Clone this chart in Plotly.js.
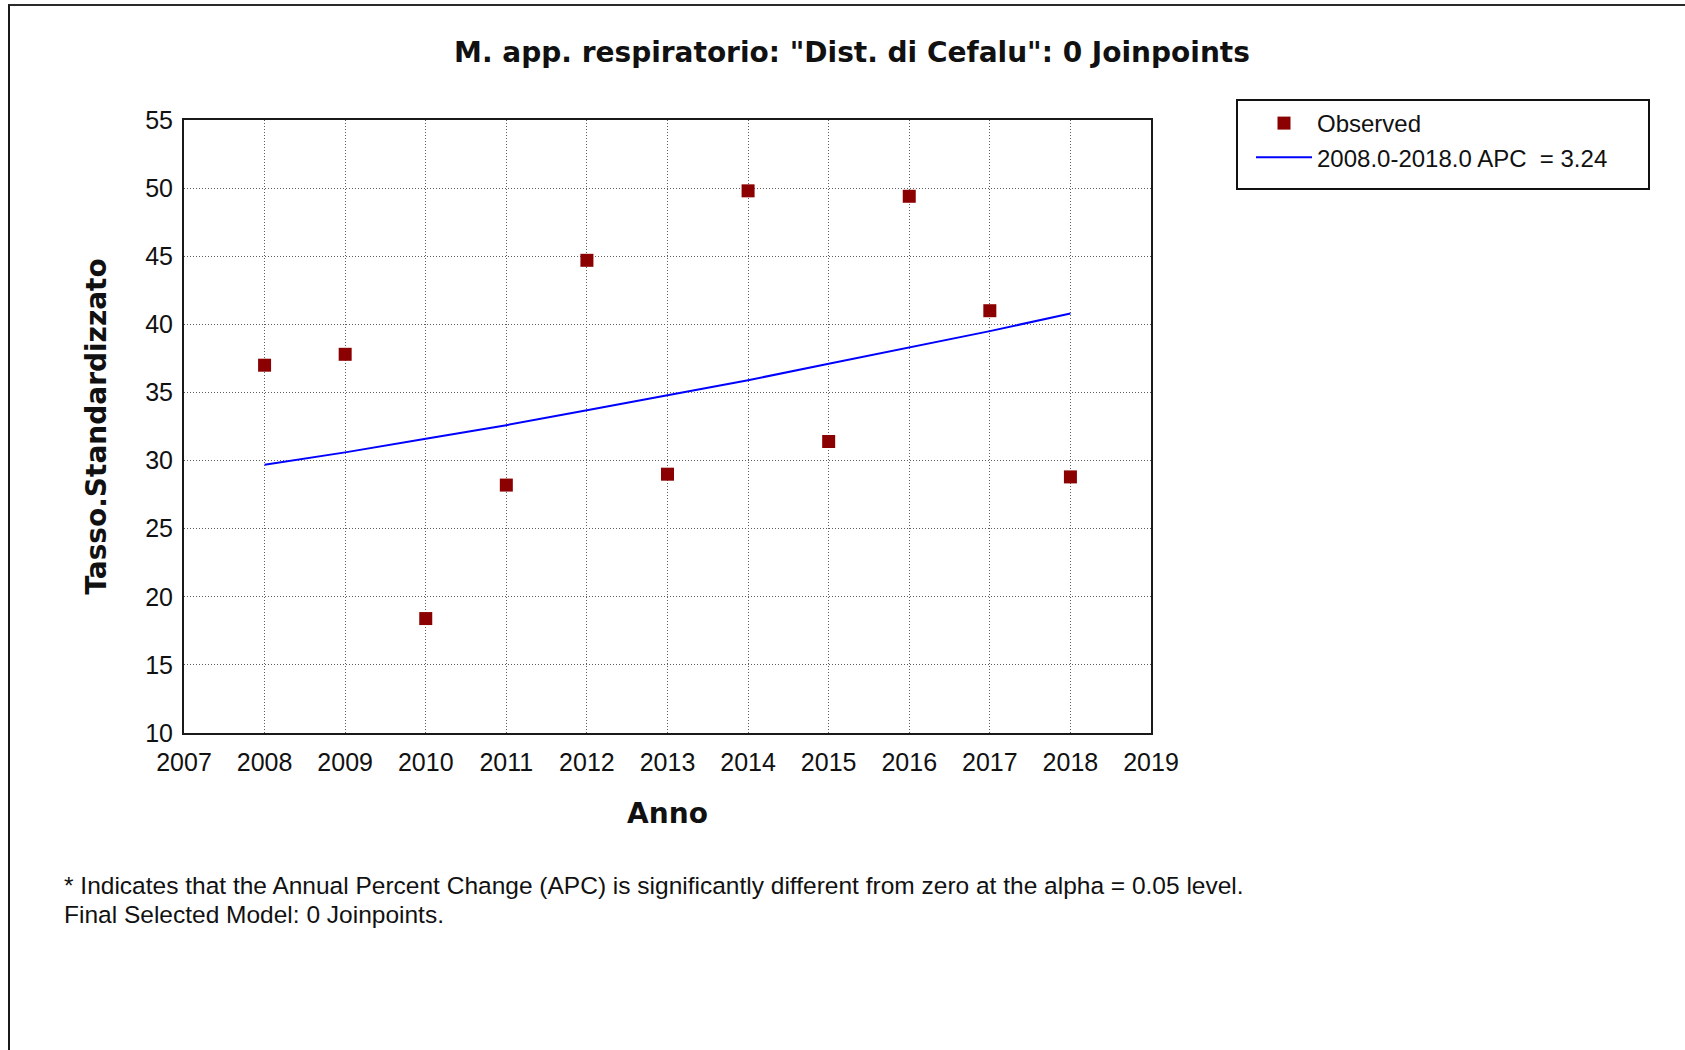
<!DOCTYPE html>
<html>
<head>
<meta charset="utf-8">
<script src="https://cdn.plot.ly/plotly-3.0.1.min.js"></script>
<style>
  html, body { margin: 0; padding: 0; background: #ffffff; }
  #chart { position: absolute; left: 0; top: 0; width: 1685px; height: 1050px; }
  #frame { position: absolute; left: 8px; top: 4px; width: 1685px; height: 1050px;
           border-left: 2px solid #1a1a1a; border-top: 2px solid #2a2a2a; pointer-events: none; }
</style>
</head>
<body>
<div id="chart"></div>
<div id="frame"></div>
<script>
// ---- data ----
const years = [2008, 2009, 2010, 2011, 2012, 2013, 2014, 2015, 2016, 2017, 2018];
const observed = [37.0, 37.8, 18.4, 28.2, 44.7, 29.0, 49.8, 31.4, 49.4, 41.0, 28.8];
const modelFit = [29.7, 30.6, 31.6, 32.6, 33.7, 34.8, 35.9, 37.1, 38.3, 39.5, 40.8];
const xTicks = [2007, 2008, 2009, 2010, 2011, 2012, 2013, 2014, 2015, 2016, 2017, 2018, 2019];
const yTicks = [10, 15, 20, 25, 30, 35, 40, 45, 50, 55];
const seriesNames = ['Observed', '2008.0-2018.0 APC  = 3.24'];
const chartTitle = 'M. app. respiratorio: "Dist. di Cefalu": 0 Joinpoints';
const xTitle = 'Anno';
const yTitle = 'Tasso.Standardizzato';
const footnotes = [
  '* Indicates that the Annual Percent Change (APC) is significantly different from zero at the alpha = 0.05 level.',
  'Final Selected Model: 0 Joinpoints.'
];

const tickFont = { family: '"Liberation Sans", Arial, sans-serif', size: 25, color: '#111111' };
const titleFont = { family: '"DejaVu Sans", Verdana, sans-serif', size: 28, color: '#111111', weight: 'bold' };

const traces = [
  {
    x: years, y: observed, name: seriesNames[0],
    type: 'scatter', mode: 'markers',
    marker: { symbol: 'square', size: 13, color: '#8b0000' }
  },
  {
    x: years, y: modelFit, name: seriesNames[1],
    type: 'scatter', mode: 'lines',
    line: { color: '#0000ff', width: 2 }
  }
];

const L = 184, R = 1151, T = 120, B = 733;
const W = R - L, H = B - T;
const px2x = (px) => (px - L) / W;
const px2y = (py) => (B - py) / H;

const gridStyle = { showgrid: true, gridcolor: '#5e5e5e', griddash: '1px,2px', gridwidth: 1 };

const layout = {
  width: 1685, height: 1050,
  paper_bgcolor: '#ffffff', plot_bgcolor: '#ffffff',
  margin: { l: L, r: 1685 - R, t: T, b: 1050 - B, pad: 0 },
  title: {
    text: chartTitle, font: titleFont,
    xref: 'container', x: 852 / 1685, xanchor: 'center',
    yref: 'container', y: 1 - 52 / 1050, yanchor: 'middle'
  },
  xaxis: Object.assign({
    range: [2007, 2019], tickvals: xTicks, ticktext: xTicks.map(String),
    zeroline: false, showline: true, mirror: true, linecolor: '#1a1a1a', linewidth: 2,
    ticks: '', tickfont: tickFont, ticklabelstandoff: 6,
    title: { text: xTitle, font: titleFont, standoff: 28 }
  }, gridStyle),
  yaxis: Object.assign({
    range: [10, 55], tickvals: yTicks, ticktext: yTicks.map(String),
    zeroline: false, showline: true, mirror: true, linecolor: '#1a1a1a', linewidth: 2,
    ticks: '', tickfont: tickFont, ticklabelstandoff: 4,
    title: { text: yTitle, font: titleFont, standoff: 30 }
  }, gridStyle),
  showlegend: true,
  legend: {
    x: px2x(1251), xanchor: 'left', y: px2y(101), yanchor: 'top',
    bgcolor: 'rgba(0,0,0,0)', borderwidth: 0,
    font: { family: '"Liberation Sans", Arial, sans-serif', size: 24, color: '#111111' },
    itemwidth: 56, tracegroupgap: 0
  },
  shapes: [{
    type: 'rect', xref: 'paper', yref: 'paper', layer: 'below',
    x0: px2x(1237), x1: px2x(1649), y0: px2y(100), y1: px2y(189),
    line: { color: '#111111', width: 2 }, fillcolor: '#ffffff'
  }],
  annotations: footnotes.map((t, i) => ({
    text: t, showarrow: false,
    xref: 'paper', yref: 'paper',
    x: px2x(62), xanchor: 'left',
    y: px2y(885 + i * 29), yanchor: 'middle',
    font: { family: '"Liberation Sans", Arial, sans-serif', size: 24.5, color: '#111111' }
  }))
};

Plotly.newPlot('chart', traces, layout, { displayModeBar: false, staticPlot: true });
</script>
</body>
</html>
